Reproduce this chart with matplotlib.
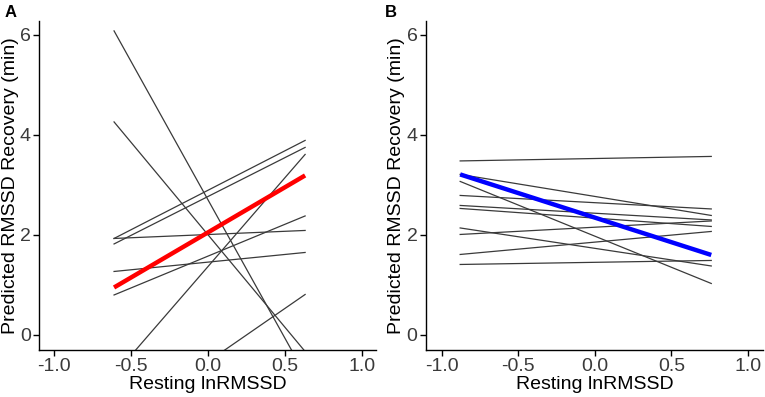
import numpy as np
import matplotlib.pyplot as plt

plt.rcParams['font.family'] = ['Liberation Sans', 'DejaVu Sans']

# panel A: predicted recovery at the two ends of the observed range
xa = [-0.61, 0.63]
a_start = [6.08, 4.26, 1.93, 1.93, 1.82, 1.27, 0.80, -0.80, -1.83]
a_end = [-0.79, -0.33, 2.09, 3.89, 3.75, 1.65, 2.38, 3.61, 0.81]
a_mean = [0.95, 3.19]

# panel B
xb = [-0.88, 0.76]
b_start = [3.48, 3.21, 3.07, 2.79, 2.59, 2.53, 2.14, 2.01, 1.61, 1.41]
b_end = [3.57, 2.39, 1.03, 2.52, 2.30, 2.17, 1.38, 2.28, 2.07, 1.49]
b_mean = [3.21, 1.60]

xticks = [-1.0, -0.5, 0.0, 0.5, 1.0]
yticks = [0, 2, 4, 6]

fig = plt.figure(figsize=(7.65, 3.97), dpi=100)
axA = fig.add_axes([0.051, 0.1184, 0.4405, 0.829])
axB = fig.add_axes([0.5565, 0.1184, 0.4413, 0.829])


def style(ax, xlim):
    for s in ['top', 'right']:
        ax.spines[s].set_visible(False)
    for s in ['left', 'bottom']:
        ax.spines[s].set_linewidth(1.0)
        ax.spines[s].set_color('black')
    ax.set_xlim(xlim)
    ax.set_ylim(-0.3, 6.28)
    ax.set_xticks(xticks)
    ax.set_xticklabels(['%.1f' % t for t in xticks])
    ax.set_yticks(yticks)
    ax.tick_params(labelsize=14, length=4, width=1, pad=2,
                   colors='black', labelcolor='#3a3a3a')
    ax.set_xlabel('Resting lnRMSSD', fontsize=14)
    ax.set_ylabel('Predicted RMSSD Recovery (min)', fontsize=14)
    ax.xaxis.set_label_coords(0.5, -0.078)
    ax.yaxis.set_label_coords(-0.06, 0.5)


for s, e in zip(a_start, a_end):
    axA.plot(xa, [s, e], color='#3a3a3a', lw=0.9)
axA.plot(xa, a_mean, color='#FF0000', lw=3.2, solid_capstyle='butt')
style(axA, (-1.097, 1.09))

for s, e in zip(b_start, b_end):
    axB.plot(xb, [s, e], color='#3a3a3a', lw=0.9)
axB.plot(xb, b_mean, color='#0000FF', lw=3.2, solid_capstyle='butt')
style(axB, (-1.105, 1.10))

fig.text(0.006, 0.968, 'A', fontsize=12, fontweight='bold', va='center')
fig.text(0.503, 0.968, 'B', fontsize=12, fontweight='bold', va='center')

fig.savefig('out.png', dpi=100)
